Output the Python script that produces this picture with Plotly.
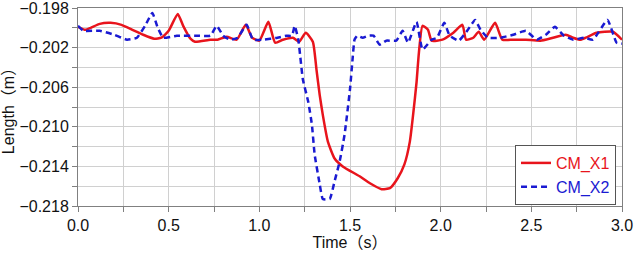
import plotly.graph_objects as go

# CM_X1 (red, solid)
t_x1 = [0.00, 0.04, 0.07, 0.12, 0.18, 0.24, 0.30, 0.36, 0.42, 0.46, 0.50, 0.55, 0.58, 0.62, 0.645,
        0.73, 0.77, 0.82, 0.875, 0.925, 0.96, 1.00, 1.05, 1.087, 1.13, 1.185, 1.22, 1.256, 1.295,
        1.315, 1.333, 1.35, 1.378, 1.415, 1.46, 1.553, 1.61, 1.674, 1.72, 1.763, 1.80, 1.83,
        1.848, 1.867, 1.88, 1.90, 1.93, 1.95, 2.01, 2.07, 2.12, 2.14, 2.18, 2.21, 2.24, 2.30,
        2.34, 2.40, 2.47, 2.55, 2.62, 2.69, 2.73, 2.77, 2.80, 2.86, 2.95, 3.00]
v_x1 = [-0.1999, -0.2002, -0.2000, -0.1996, -0.1995, -0.1997, -0.2002, -0.2007, -0.2011, -0.2010,
        -0.2003, -0.1986, -0.1998, -0.2011, -0.2014,
        -0.2012, -0.2012, -0.2009, -0.2012, -0.1997, -0.2010, -0.2013, -0.1994, -0.2015, -0.2012,
        -0.2010, -0.2014, -0.2005, -0.2014,
        -0.2042, -0.2068, -0.2088, -0.2115, -0.2132, -0.2140, -0.2150, -0.2157, -0.2163, -0.2162,
        -0.2152, -0.2138, -0.2115,
        -0.2088, -0.2055, -0.2025, -0.1998, -0.2002, -0.2013, -0.2012, -0.2005, -0.1997, -0.2012,
        -0.2010, -0.2004, -0.2012, -0.1995,
        -0.2012, -0.2012, -0.2012, -0.2013, -0.2010, -0.2007, -0.2010, -0.2012, -0.2010, -0.2005,
        -0.2004, -0.2012]

# CM_X2 (blue, dashed)
t_x2 = [0.00, 0.03, 0.12, 0.20, 0.27, 0.325, 0.37, 0.41, 0.44, 0.47, 0.545, 0.655, 0.73, 0.765,
        0.80, 0.84, 0.88, 0.93, 0.965, 1.02, 1.10, 1.15, 1.18, 1.195, 1.215, 1.24, 1.27, 1.29,
        1.305, 1.333, 1.35, 1.388, 1.415, 1.443, 1.47, 1.50, 1.514, 1.525, 1.54, 1.57, 1.60,
        1.63, 1.663, 1.70, 1.755, 1.79, 1.82, 1.867, 1.90, 1.95, 1.98, 2.02, 2.05, 2.10, 2.15,
        2.19, 2.22, 2.26, 2.33, 2.40, 2.47, 2.53, 2.58, 2.63, 2.68, 2.73, 2.79, 2.84, 2.92,
        2.97, 3.00]
v_x2 = [-0.1998, -0.2003, -0.2003, -0.2007, -0.2012, -0.2010, -0.1998, -0.1985, -0.2000, -0.2010,
        -0.2008, -0.2008, -0.2008, -0.1998,
        -0.2008, -0.2012, -0.2010, -0.1997, -0.2012, -0.2012, -0.2010, -0.2008, -0.2008, -0.1998,
        -0.2012, -0.2052, -0.2075, -0.2098,
        -0.2128, -0.2158, -0.2173, -0.2173, -0.2155, -0.2135, -0.2108, -0.2062, -0.2032, -0.2012,
        -0.2008, -0.2010, -0.2008,
        -0.2008, -0.2017, -0.2013, -0.2013, -0.2003, -0.2015, -0.1994, -0.2022, -0.2012, -0.2010,
        -0.1995, -0.2008, -0.2013, -0.2002,
        -0.1992, -0.2002, -0.2010, -0.2010, -0.2007, -0.2003, -0.2012, -0.2007, -0.1999, -0.2008,
        -0.2012, -0.2010, -0.2012, -0.1992,
        -0.2015, -0.2016]

x_ticks = [0.0, 0.5, 1.0, 1.5, 2.0, 2.5, 3.0]
x_tick_labels = ["0.0", "0.5", "1.0", "1.5", "2.0", "2.5", "3.0"]
y_ticks = [-0.218, -0.214, -0.210, -0.206, -0.202, -0.198]
y_tick_labels = ["\u22120.218", "\u22120.214", "\u22120.210", "\u22120.206", "\u22120.202", "\u22120.198"]

FONT = "Liberation Sans, Noto Sans CJK JP, sans-serif"
TXT = "#111111"
RED = "#e8141c"
BLUE = "#1a1ad2"

fig = go.Figure()
fig.add_trace(go.Scatter(x=t_x1, y=v_x1, mode="lines",
                         name="<span style='color:%s'>CM_X1</span>" % RED,
                         line=dict(color=RED, width=2.5, shape="spline", smoothing=0.5)))
fig.add_trace(go.Scatter(x=t_x2, y=v_x2, mode="lines",
                         name="<span style='color:%s'>CM_X2</span>" % BLUE,
                         line=dict(color=BLUE, width=2.5, dash="6px,4px",
                                   shape="spline", smoothing=0.4)))

axis_common = dict(showline=True, linecolor="#808080", linewidth=1, mirror=True,
                   showgrid=True, gridcolor="#d0d0d0", gridwidth=1, automargin=False,
                   ticks="outside", ticklen=5, tickcolor="#808080", zeroline=False,
                   ticklabeloverflow="allow",
                   tickfont=dict(family=FONT, size=16, color=TXT))

fig.update_xaxes(range=[-0.00001, 3.00001], tickvals=x_ticks, ticktext=x_tick_labels,
                 minor=dict(tickvals=[0.25, 0.75, 1.25, 1.75, 2.25, 2.75], showgrid=True,
                            gridcolor="#d0d0d0", ticks="outside", ticklen=5, tickcolor="#808080"),
                 title=dict(text="Time\uff08s\uff09", font=dict(family=FONT, size=16, color=TXT),
                            standoff=0),
                 **axis_common)
fig.update_yaxes(range=[-0.2180001, -0.1979999], tickvals=y_ticks, ticktext=y_tick_labels,
                 minor=dict(tickvals=[-0.216, -0.212, -0.208, -0.204, -0.200], showgrid=True,
                            gridcolor="#d0d0d0", ticks="outside", ticklen=5, tickcolor="#808080"),
                 title=dict(text="Length\uff08m\uff09", font=dict(family=FONT, size=16, color=TXT),
                            standoff=0),
                 **axis_common)

fig.update_layout(
    width=636, height=253,
    margin=dict(l=78, r=14, t=8, b=47),
    plot_bgcolor="white", paper_bgcolor="white",
    showlegend=True,
    legend=dict(x=0.989, y=0.005, xanchor="right", yanchor="bottom",
                bgcolor="white", bordercolor="#555555", borderwidth=1,
                font=dict(family=FONT, size=16), tracegroupgap=0,
                itemwidth=30),
    font=dict(family=FONT),
)

fig.write_html("out.html", config={"displayModeBar": False},
               post_script="document.body.style.margin='0';document.body.style.overflow='hidden';")
